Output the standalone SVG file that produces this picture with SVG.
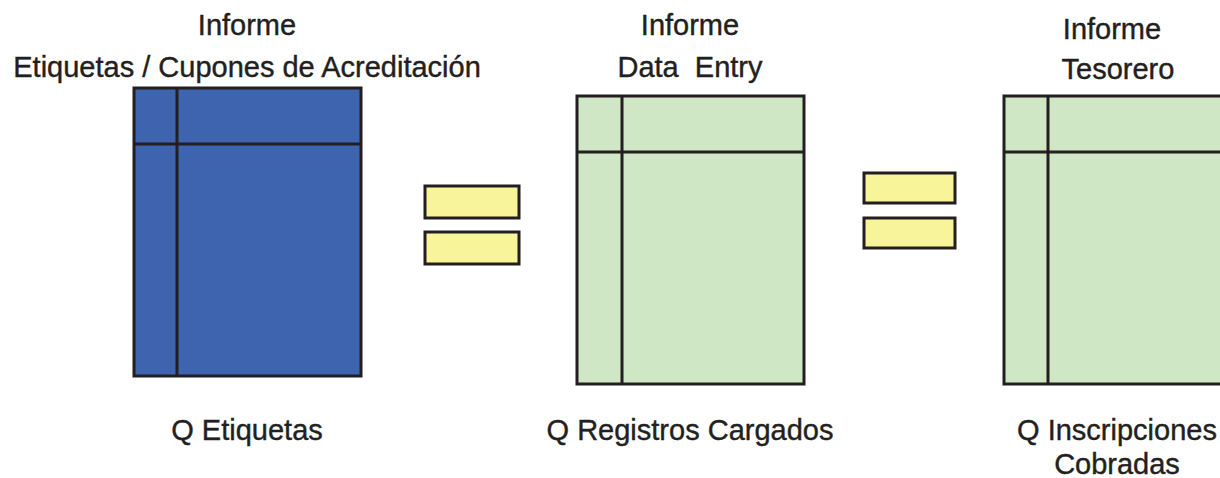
<svg xmlns="http://www.w3.org/2000/svg" width="1220" height="478" viewBox="0 0 1220 478">
<style>
.t{font-family:"Liberation Sans","DejaVu Sans",sans-serif;font-size:29px;fill:#231f20;text-anchor:middle;stroke:#231f20;stroke-width:0.4}
.tb{stroke:#231f20;stroke-width:3}
.blue{fill:#3e64af}
.green{fill:#d0e7c5}
.bar{fill:#f7f49a;stroke:#231f20;stroke-width:3}
</style>
<rect width="1220" height="478" fill="#fff"/>
<g id="informe-etiquetas">
<text class="t" x="247" y="35">Informe</text>
<text class="t" x="247" y="77">Etiquetas / Cupones de Acreditación</text>
<rect class="tb blue" x="134" y="88" width="227" height="288"/>
<line class="tb" x1="177" y1="88" x2="177" y2="376"/>
<line class="tb" x1="134" y1="144" x2="361" y2="144"/>
<text class="t" x="247" y="440">Q Etiquetas</text>
</g>
<g id="informe-data-entry">
<text class="t" x="690" y="35">Informe</text>
<text class="t" x="690" y="77" xml:space="preserve">Data  Entry</text>
<rect class="tb green" x="577" y="96" width="227" height="288"/>
<line class="tb" x1="622" y1="96" x2="622" y2="384"/>
<line class="tb" x1="577" y1="152" x2="804" y2="152"/>
<text class="t" x="690" y="440">Q Registros Cargados</text>
</g>
<g id="informe-tesorero">
<text class="t" x="1112" y="39">Informe</text>
<text class="t" x="1118" y="79">Tesorero</text>
<rect class="tb green" x="1004" y="96" width="230" height="288"/>
<line class="tb" x1="1048" y1="96" x2="1048" y2="384"/>
<line class="tb" x1="1004" y1="152" x2="1234" y2="152"/>
<text class="t" x="1117" y="440">Q Inscripciones</text>
<text class="t" x="1117" y="474">Cobradas</text>
</g>
<g id="connectors">
<rect class="bar" x="425" y="186" width="94" height="32"/>
<rect class="bar" x="425" y="232" width="94" height="32"/>
<rect class="bar" x="864" y="173" width="91" height="30"/>
<rect class="bar" x="864" y="218" width="91" height="30"/>
</g>
</svg>
